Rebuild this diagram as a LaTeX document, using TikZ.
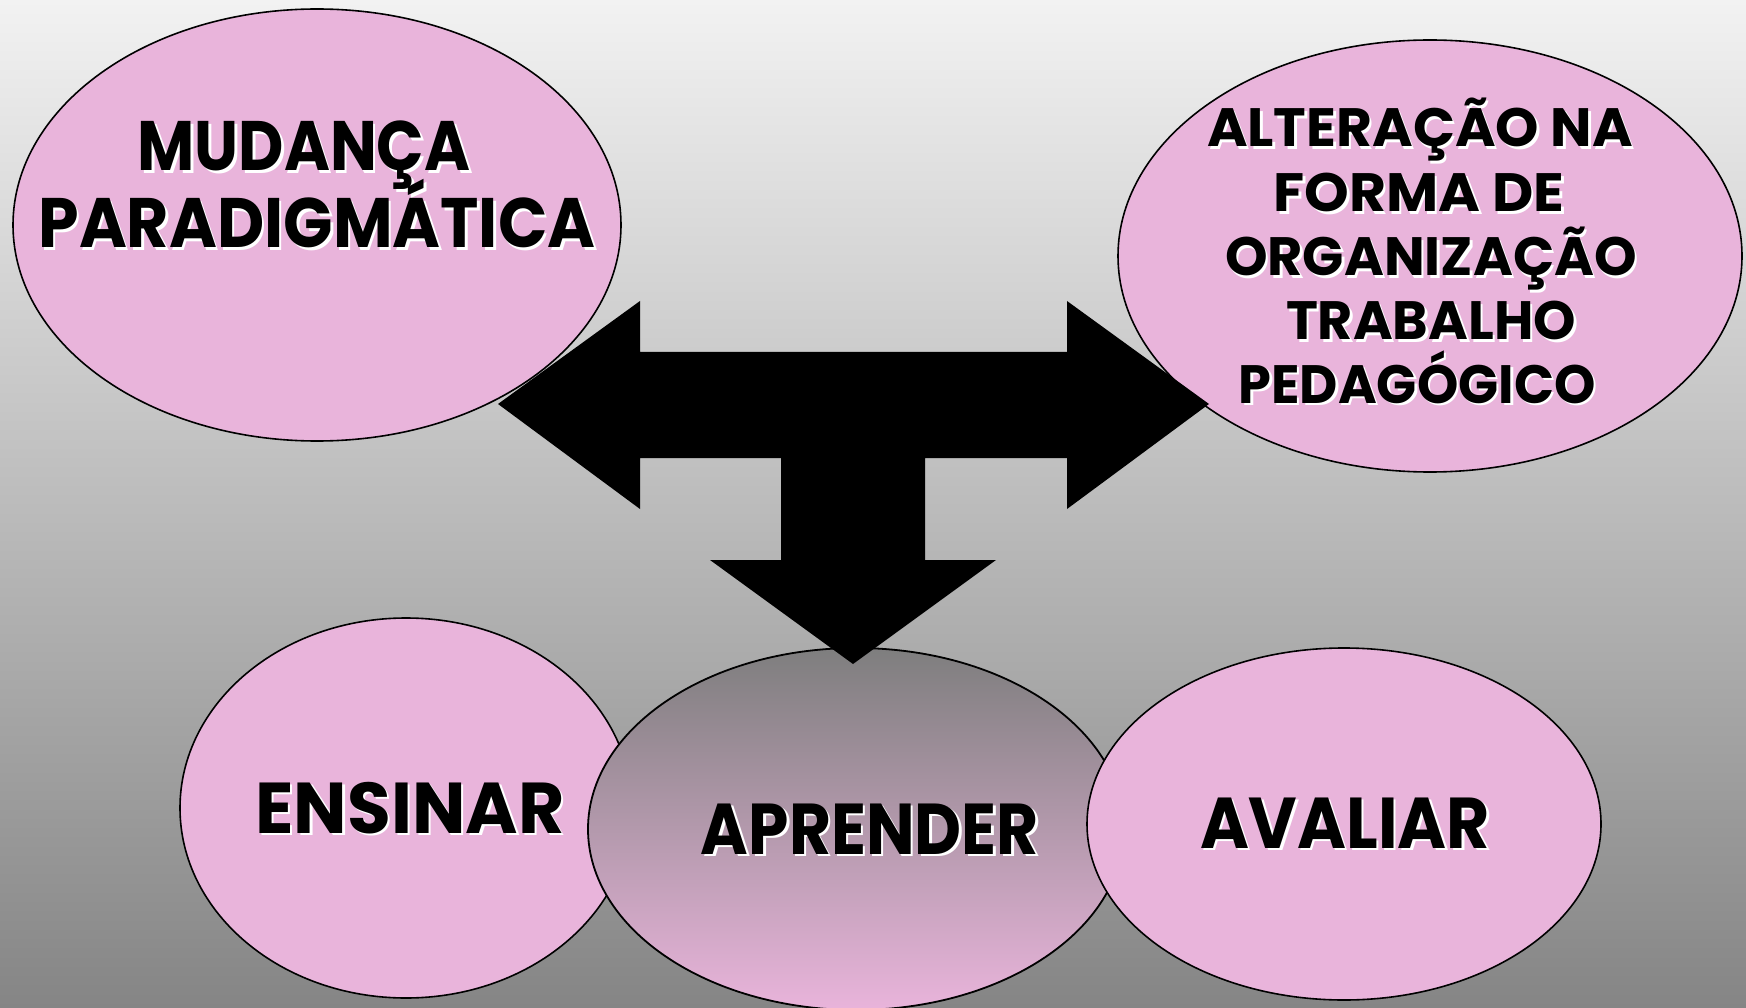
\documentclass[tikz,border=0pt]{standalone}
\usepackage{fontspec}
\setmainfont{Poppins}
\usetikzlibrary{shapes.geometric}
\definecolor{pinkfill}{HTML}{E9B4DB}
\definecolor{bgtop}{HTML}{F2F2F2}
\definecolor{bgbot}{HTML}{858585}
\definecolor{aprtop}{HTML}{7E7E7E}
\newcommand{\shtext}[6]{% name, x, y, fontsize, width, text
  \node[txt, text=white, font=\fontsize{#4}{#4}\selectfont\bfseries, xshift=2.5pt, yshift=-2.5pt] (#1s) at (#2,#3) {\resizebox{#5pt}{\height}{#6}};
  \node[txt, font=\fontsize{#4}{#4}\selectfont\bfseries] (#1) at (#2,#3) {\resizebox{#5pt}{\height}{#6}};}
\begin{document}
\begin{tikzpicture}[x=1pt, y=-1pt,
  ell/.style={ellipse, draw=black, line width=1.6pt, fill=pinkfill, inner sep=0pt},
  txt/.style={anchor=base, inner sep=0pt}]
\useasboundingbox (0,0) rectangle (1746,1008);
\shade[top color=bgtop, bottom color=bgbot] (0,0) rectangle (1746,1008);
% top ellipses
\node[ell, minimum width=608pt, minimum height=432pt] (mud) at (317,225) {};
\node[ell, minimum width=624pt, minimum height=432pt] (alt) at (1430,256) {};
% bottom ellipses
\node[ell, minimum width=452pt, minimum height=380pt] (ens) at (406,808) {};
\node[ellipse, draw=black, line width=1.8pt, inner sep=0pt, top color=aprtop, bottom color=pinkfill, minimum width=536pt, minimum height=362pt] (apr) at (856,829) {};
\node[ell, minimum width=514pt, minimum height=352pt] (ava) at (1344,824) {};
% arrow
\coordinate (lt) at (498,404);
\coordinate (rt) at (1209,404);
\coordinate (dt) at (853,664);
\fill[black] (lt) -- (640,301) -- (640,352) -- (1067,352) -- (1067,301) -- (rt)
  -- (1067,509) -- (1067,458) -- (925,458) -- (925,560) -- (996,560) -- (dt)
  -- (710,560) -- (781,560) -- (781,458) -- (640,458) -- (640,509) -- cycle;
% texts
\shtext{t1}{304}{171}{70}{333}{MUDANÇA}
\shtext{t2}{317}{248}{70}{557}{PARADIGMÁTICA}
\shtext{t3}{1420}{147}{54}{426}{ALTERAÇÃO NA}
\shtext{t4}{1419}{212}{54}{291}{FORMA DE}
\shtext{t5}{1431}{276}{54}{412}{ORGANIZAÇÃO}
\shtext{t6}{1431}{340}{54}{290}{TRABALHO}
\shtext{t7}{1417}{403}{54}{357}{PEDAGÓGICO}
\shtext{t8}{410}{833}{72}{309}{ENSINAR}
\shtext{t9}{870}{854}{72}{338}{APRENDER}
\shtext{t10}{1345}{848}{72}{290}{AVALIAR}
\end{tikzpicture}
\end{document}
